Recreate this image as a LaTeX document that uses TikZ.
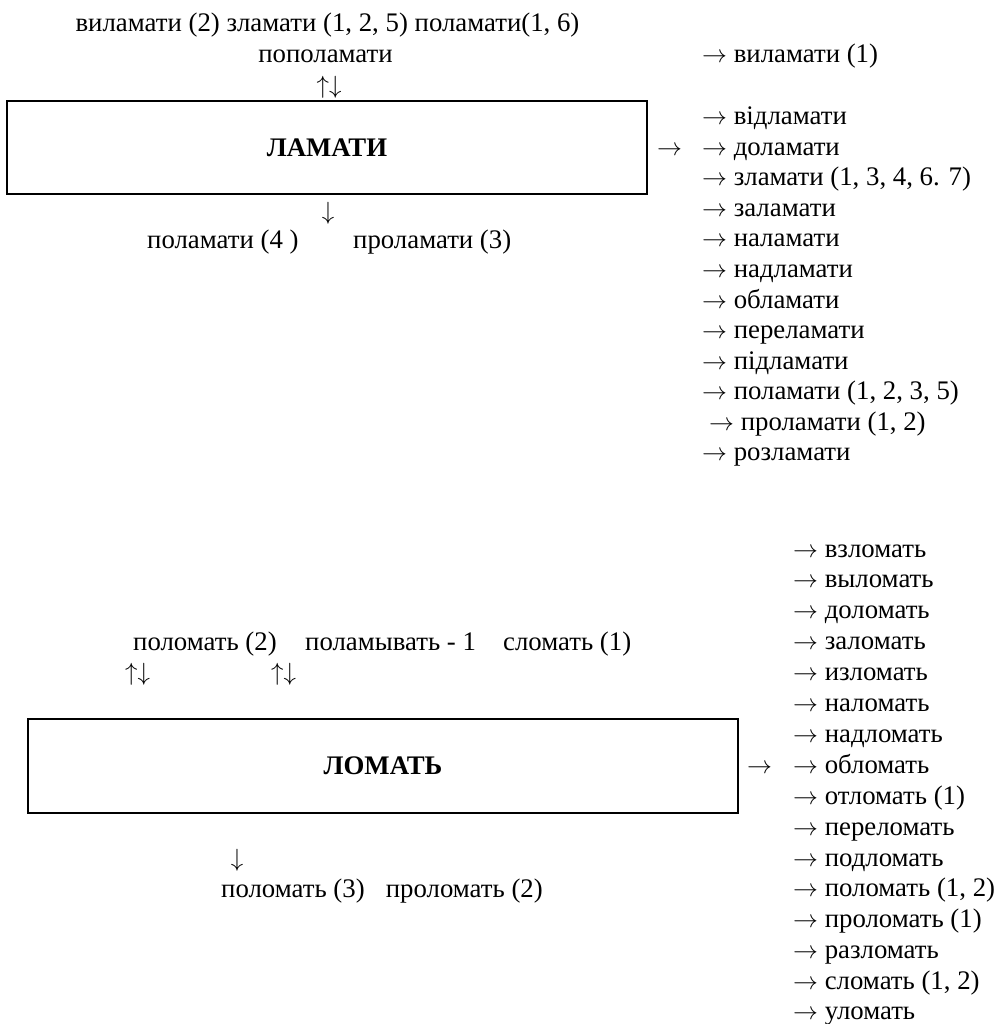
\documentclass[tikz,border=0pt]{standalone}
\usepackage{fontspec}
\setmainfont{Liberation Serif}
\newcommand{\myra}{{\fontsize{24}{24}\selectfont$\rightarrow$}}
\newcommand{\myud}{{\fontsize{24}{24}\selectfont$\uparrow\downarrow$}}
\newcommand{\mydn}{{\fontsize{24}{24}\selectfont$\downarrow$}}
\begin{document}
\begin{tikzpicture}[x=1pt,y=-1pt,
  txt/.style={inner sep=0pt, anchor=base west, font=\fontsize{26.8}{30.5}\selectfont},
  ctxt/.style={txt, anchor=base},
  etxt/.style={txt, anchor=base east},
  boxnode/.style={draw, line width=2pt, inner sep=0pt, font=\fontsize{26.8}{30.5}\selectfont\bfseries}]
\useasboundingbox (0,0) rectangle (998,1024);
% ---------------- ЛАМАТИ ----------------
\node[ctxt] (t1) at (327.5,32) {виламати (2) зламати (1, 2, 5) поламати(1, 6)};
\node[ctxt] (t2) at (325.5,63) {пополамати};
\node[ctxt] (t3) at (329,94) {\myud};
\node[boxnode, minimum width=640pt, minimum height=93pt] (lamati) at (327,147.5) {ЛАМАТИ};
\node[ctxt] (t4) at (328,220) {\mydn};
\node[txt] (t5) at (147,248) {поламати (4 )};
\node[txt] (t6) at (353,248) {проламати (3)};
\node[txt] (ta) at (657,155.5) {\myra};
\node[txt] (r0) at (702,63) {\myra{} виламати (1)};
\node[txt] (r1) at (702,125) {\myra{} відламати};
\node[txt] (r2) at (702,155.5) {\myra{} доламати};
\node[txt] (r3) at (702,186) {\myra{} зламати (1, 3, 4, 6. 7)};
\node[txt] (r4) at (702,216.5) {\myra{} заламати};
\node[txt] (r5) at (702,247) {\myra{} наламати};
\node[txt] (r6) at (702,277.5) {\myra{} надламати};
\node[txt] (r7) at (702,308) {\myra{} обламати};
\node[txt] (r8) at (702,338.5) {\myra{} переламати};
\node[txt] (r9) at (702,369) {\myra{} підламати};
\node[txt] (r10) at (702,399.5) {\myra{} поламати (1, 2, 3, 5)};
\node[txt] (r11) at (709,430) {\myra{} проламати (1, 2)};
\node[txt] (r12) at (702,460.5) {\myra{} розламати};
% ---------------- ЛОМАТЬ ----------------
\node[txt] (b1) at (133,650) {поломать (2)};
\node[txt] (b2) at (305,650) {поламывать - 1};
\node[txt] (b3) at (503,650) {сломать (1)};
\node[txt] (b4) at (125,680) {\myud};
\node[txt] (b5) at (271,680) {\myud};
\node[boxnode, minimum width=710pt, minimum height=94pt] (lomat) at (383,766) {ЛОМАТЬ};
\node[ctxt] (b6) at (237,866) {\mydn};
\node[txt] (b7) at (221,897) {поломать (3)};
\node[etxt] (b8) at (543,897) {проломать (2)};
\node[txt] (ba) at (747,773) {\myra};
\node[txt] (s1) at (793,557) {\myra{} взломать};
\node[txt] (s2) at (793,587.9) {\myra{} выломать};
\node[txt] (s3) at (793,618.8) {\myra{} доломать};
\node[txt] (s4) at (793,649.7) {\myra{} заломать};
\node[txt] (s5) at (793,680.6) {\myra{} изломать};
\node[txt] (s6) at (793,711.5) {\myra{} наломать};
\node[txt] (s7) at (793,742.4) {\myra{} надломать};
\node[txt] (s8) at (793,773.3) {\myra{} обломать};
\node[txt] (s9) at (793,804.2) {\myra{} отломать (1)};
\node[txt] (s10) at (793,835.1) {\myra{} переломать};
\node[txt] (s11) at (793,866) {\myra{} подломать};
\node[txt] (s12) at (793,896.9) {\myra{} поломать (1, 2)};
\node[txt] (s13) at (793,927.8) {\myra{} проломать (1)};
\node[txt] (s14) at (793,958.7) {\myra{} разломать};
\node[txt] (s15) at (793,989.6) {\myra{} сломать (1, 2)};
\node[txt] (s16) at (793,1019.5) {\myra{} уломать};
\end{tikzpicture}
\end{document}
